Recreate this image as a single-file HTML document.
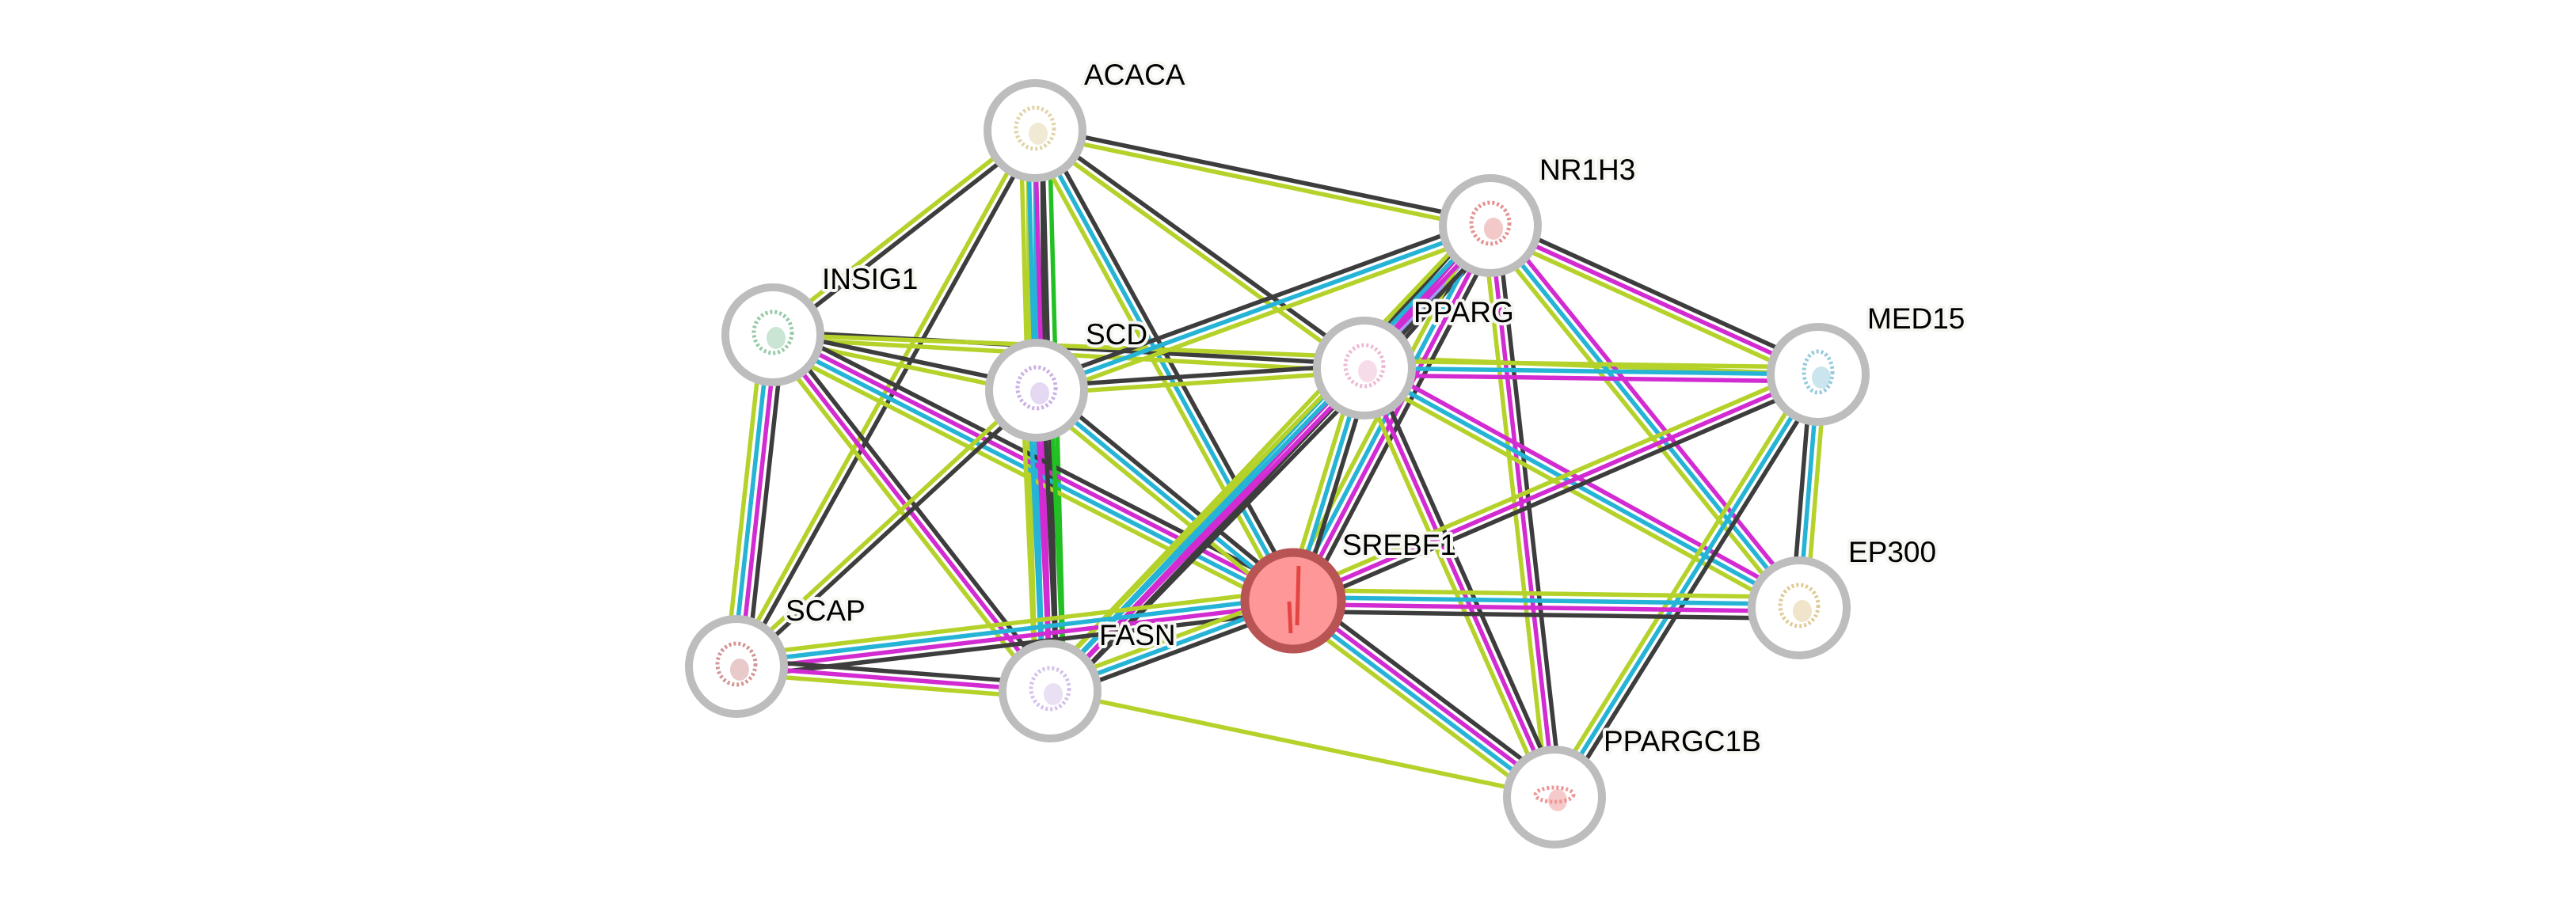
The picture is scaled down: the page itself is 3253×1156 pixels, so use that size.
<!DOCTYPE html>
<html><head><meta charset="utf-8"><style>
html,body{margin:0;padding:0;background:#fff;}
svg{display:block}
text{font-family:"Liberation Sans",Arial,sans-serif;font-size:37px;fill:#000;paint-order:stroke;stroke:#f6f6f2;stroke-width:8px;stroke-linejoin:round}
</style></head><body>
<svg id="s" width="3253" height="1156" viewBox="0 0 3253 1156" xmlns="http://www.w3.org/2000/svg">
<g id="edges"></g><g id="nodes"></g>
</svg>
<script>
var N={
ACACA:[1307,165],NR1H3:[1882,285],INSIG1:[976,423],SCD:[1309,493],PPARG:[1723,465],
MED15:[2296,473],SREBF1:[1633,759],EP300:[2272,768],SCAP:[930,842],FASN:[1326,873],PPARGC1B:[1963,1007]};
var C={k:"#3d3d3d",c:"#25b3d6",m:"#d12bd1",g:"#22c022",y:"#b4d22a",p:"#9c9cf5"};
var E=[
["ACACA","NR1H3","ky"],["ACACA","INSIG1","ky"],["ACACA","SCAP","ky"],["ACACA","SCD","kcy"],
["ACACA","FASN","gkmcy"],["ACACA","SREBF1","kcy"],["ACACA","PPARG","ky"],
["INSIG1","PPARG","ky"],["INSIG1","SCD","ky"],["INSIG1","SREBF1","kmcy"],["INSIG1","SCAP","kmcy"],
["INSIG1","FASN","kmy"],["INSIG1","MED15","y"],
["SCD","NR1H3","kcy"],["SCD","PPARG","ky"],["SCD","SREBF1","kcy"],["SCD","FASN","gkmcy"],["SCD","SCAP","ky"],
["NR1H3","PPARG","kpmk"],["NR1H3","SREBF1","kmcy"],["NR1H3","FASN","kmcy"],["NR1H3","MED15","kmy"],
["NR1H3","EP300","mcy"],["NR1H3","PPARGC1B","kmy"],
["PPARG","MED15","ycm"],["PPARG","EP300","mcy"],["PPARG","SREBF1","kcy"],["PPARG","FASN","kmcy"],
["PPARG","PPARGC1B","kmy"],
["MED15","SREBF1","kmy"],["MED15","EP300","yck"],["MED15","PPARGC1B","kcy"],
["SREBF1","EP300","ycmk"],["SREBF1","PPARGC1B","kmcy"],["SREBF1","SCAP","kmcy"],["SREBF1","FASN","kcy"],
["SCAP","FASN","kmy"],["FASN","PPARGC1B","y"]
];
var ns="http://www.w3.org/2000/svg",eg=document.getElementById("edges"),ng=document.getElementById("nodes");
function el(t,a,p){var e=document.createElementNS(ns,t);for(var k in a)e.setAttribute(k,a[k]);p.appendChild(e);return e;}
E.forEach(function(e){var a=N[e[0]],b=N[e[1]],dx=b[0]-a[0],dy=b[1]-a[1],L=Math.hypot(dx,dy),px=-dy/L,py=dx/L,n=e[2].length,sp=9;
for(var i=0;i<n;i++){var o=(i-(n-1)/2)*sp;
el("line",{x1:a[0]+px*o,y1:a[1]+py*o,x2:b[0]+px*o,y2:b[1]+py*o,stroke:C[e[2][i]],"stroke-width":5.5},eg);}});
var ic={ACACA:"#c8b060",NR1H3:"#d03838",INSIG1:"#40a060",SCD:"#a070d0",PPARG:"#e080b0",MED15:"#40a0c0",
SREBF1:"#d00000",EP300:"#c8a040",SCAP:"#b04040",FASN:"#b090d8",PPARGC1B:"#e04040"};
for(var k in N){var p=N[k],red=k=="SREBF1";
el("circle",{cx:p[0],cy:p[1],r:red?61:60,fill:red?"#fe9898":"#fff",stroke:red?"#b85454":"#bdbdbd","stroke-width":red?11:10},ng);
var g=el("g",{opacity:0.55},ng);
if(red){el("path",{d:"M1640 715 L1638 790 M1628 760 L1630 800",stroke:"#d00000","stroke-width":5,fill:"none"},g);}
else{el("ellipse",{cx:p[0],cy:p[1]-3,rx:k=="MED15"?18:24,ry:k=="PPARGC1B"?9:26,fill:"none",stroke:ic[k],"stroke-width":5,"stroke-dasharray":"3 3"},g);
el("ellipse",{cx:p[0]+4,cy:p[1]+4,rx:12,ry:14,fill:ic[k],opacity:0.5},g);}
var t=el("text",{x:p[0]+62,y:p[1]-58},ng);t.textContent=k;}
</script>
</body></html>
